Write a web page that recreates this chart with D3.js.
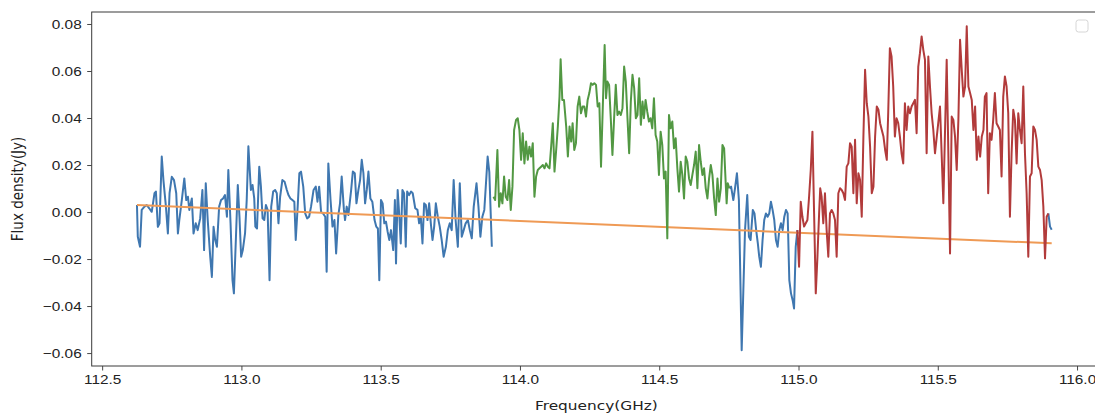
<!DOCTYPE html>
<html>
<head>
<meta charset="utf-8">
<script src="https://cdn.jsdelivr.net/npm/d3@7"></script>
<style>
  html, body { margin: 0; padding: 0; background: #fff; }
  svg { display: block; }
</style>
</head>
<body>
<div id="chart"></div>
<script>
// spectrum: blue = line-free channels, green / red = the two line windows
const blueFreq1 = [112.625, 112.628, 112.636, 112.642, 112.652, 112.660, 112.669, 112.678, 112.688, 112.693,
  112.700, 112.706, 112.714, 112.720, 112.729, 112.736, 112.742, 112.750, 112.758, 112.766,
  112.772, 112.777, 112.786, 112.795, 112.802, 112.808, 112.813, 112.822, 112.828, 112.836,
  112.843, 112.852, 112.860, 112.866, 112.872, 112.879, 112.888, 112.894, 112.900, 112.906,
  112.912, 112.920, 112.927, 112.934, 112.941, 112.948, 112.953, 112.961, 112.968, 112.973,
  112.980, 112.987, 112.993, 112.999, 113.005, 113.013, 113.019, 113.025, 113.034, 113.040,
  113.046, 113.050, 113.056, 113.064, 113.070, 113.076, 113.082, 113.088, 113.094, 113.101,
  113.107, 113.114, 113.121, 113.127, 113.133, 113.139, 113.147, 113.155, 113.163, 113.169,
  113.176, 113.183, 113.190, 113.195, 113.202, 113.208, 113.214, 113.222, 113.229, 113.236,
  113.243, 113.250, 113.259, 113.267, 113.273, 113.279, 113.286, 113.293, 113.301, 113.306,
  113.312, 113.320, 113.327, 113.334, 113.340, 113.348, 113.354, 113.360, 113.368, 113.372,
  113.378, 113.384, 113.394, 113.400, 113.407, 113.413, 113.420, 113.426, 113.432, 113.438,
  113.444, 113.450, 113.456, 113.463, 113.470, 113.478, 113.484, 113.490, 113.495, 113.501,
  113.507, 113.513, 113.519, 113.525, 113.531, 113.537, 113.545, 113.551, 113.555, 113.561,
  113.567, 113.572, 113.578, 113.584, 113.590, 113.595, 113.602, 113.609, 113.615, 113.624,
  113.632, 113.638, 113.644, 113.650, 113.656, 113.662, 113.668, 113.674, 113.680, 113.686,
  113.692, 113.698, 113.705, 113.712, 113.719, 113.726, 113.734, 113.741, 113.748, 113.755,
  113.762, 113.769, 113.777, 113.784, 113.791, 113.798, 113.805, 113.813, 113.820, 113.827,
  113.834, 113.844, 113.851, 113.858, 113.865, 113.872, 113.878, 113.884, 113.890, 113.899];
const blueFlux1 = [0.0030, -0.0105, -0.0148, 0.0009, 0.0023, 0.0030, 0.0016, 0.0001, 0.0080, 0.0087,
  -0.0063, -0.0048, 0.0236, 0.0136, 0.0023, -0.0091, 0.0080, 0.0150, 0.0136, 0.0080,
  -0.0091, -0.0034, 0.0051, 0.0143, 0.0051, 0.0065, 0.0009, 0.0058, -0.0091, -0.0048,
  -0.0077, -0.0027, 0.0094, -0.0162, 0.0122, -0.0034, -0.0190, -0.0276, -0.0063, -0.0119,
  -0.0148, 0.0023, 0.0051, 0.0058, 0.0072, -0.0020, 0.0179, -0.0048, -0.0290, -0.0346,
  -0.0119, 0.0115, -0.0020, -0.0190, -0.0162, -0.0091, 0.0051, 0.0280, 0.0094, 0.0115,
  0.0058, -0.0062, -0.0070, 0.0193, 0.0108, -0.0027, -0.0034, 0.0030, 0.0009, -0.0290,
  0.0023, 0.0087, 0.0094, 0.0080, -0.0048, 0.0065, 0.0136, 0.0129, 0.0094, 0.0072,
  0.0058, 0.0051, 0.0044, -0.0119, 0.0023, 0.0165, 0.0172, 0.0108, -0.0006, -0.0027,
  -0.0020, 0.0023, 0.0094, 0.0108, 0.0044, 0.0108, 0.0001, -0.0006, -0.0020, -0.0254,
  0.0207, 0.0051, -0.0062, -0.0034, -0.0176, -0.0013, 0.0037, 0.0151, 0.0009, -0.0034,
  0.0023, -0.0013, 0.0094, 0.0172, 0.0165, 0.0037, 0.0094, 0.0136, 0.0222, 0.0165,
  0.0037, 0.0094, 0.0172, 0.0058, 0.0044, -0.0034, -0.0062, -0.0070, -0.0290, 0.0051,
  0.0037, -0.0048, -0.0041, -0.0084, -0.0119, -0.0077, -0.0162, 0.0051, -0.0219, 0.0094,
  -0.0020, -0.0134, 0.0094, 0.0080, -0.0148, 0.0087, 0.0072, 0.0087, 0.0080, 0.0016,
  0.0009, -0.0048, -0.0020, -0.0134, 0.0037, 0.0030, -0.0034, 0.0037, -0.0048, -0.0119,
  -0.0062, 0.0037, -0.0020, -0.0062, -0.0119, -0.0190, -0.0148, -0.0077, -0.0048, -0.0077,
  0.0136, -0.0034, -0.0148, 0.0122, -0.0105, -0.0077, -0.0048, -0.0034, -0.0077, -0.0112,
  0.0023, 0.0122, 0.0023, -0.0105, -0.0020, 0.0009, 0.0122, 0.0236, 0.0170, -0.0148];

const greenFreq = [113.905, 113.911, 113.919, 113.925, 113.931, 113.937, 113.943, 113.949, 113.955, 113.961,
  113.967, 113.973, 113.979, 113.986, 113.992, 113.998, 114.004, 114.010, 114.016, 114.022,
  114.028, 114.034, 114.040, 114.046, 114.052, 114.058, 114.064, 114.070, 114.076, 114.082,
  114.088, 114.094, 114.100, 114.106, 114.112, 114.118, 114.124, 114.130, 114.136, 114.142,
  114.146, 114.152, 114.158, 114.166, 114.172, 114.178, 114.184, 114.189, 114.195, 114.201,
  114.207, 114.213, 114.219, 114.225, 114.231, 114.237, 114.243, 114.249, 114.255, 114.261,
  114.267, 114.273, 114.279, 114.285, 114.291, 114.304, 114.309, 114.314, 114.320, 114.326,
  114.332, 114.338, 114.344, 114.350, 114.356, 114.362, 114.368, 114.374, 114.380, 114.386,
  114.392, 114.398, 114.404, 114.410, 114.416, 114.422, 114.428, 114.434, 114.440, 114.445,
  114.451, 114.457, 114.463, 114.469, 114.475, 114.481, 114.487, 114.493, 114.499, 114.505,
  114.511, 114.517, 114.523, 114.529, 114.535, 114.541, 114.547, 114.553, 114.559, 114.565,
  114.571, 114.577, 114.583, 114.589, 114.595, 114.601, 114.607, 114.613, 114.619, 114.625,
  114.631, 114.637, 114.643, 114.649, 114.655, 114.661, 114.667, 114.673, 114.679, 114.685,
  114.691, 114.697, 114.703, 114.709, 114.715, 114.721, 114.727, 114.733, 114.737, 114.742,
  114.746, 114.752];
const greenFlux = [0.0065, 0.0051, 0.0264, 0.0023, 0.0080, 0.0037, 0.0151, 0.0065, 0.0051, 0.0136,
  0.0009, 0.0108, 0.0349, 0.0392, 0.0399, 0.0349, 0.0222, 0.0335, 0.0207, 0.0300,
  0.0222, 0.0278, 0.0236, 0.0293, 0.0065, 0.0151, 0.0179, 0.0186, 0.0193, 0.0200,
  0.0186, 0.0207, 0.0193, 0.0186, 0.0278, 0.0378, 0.0172, 0.0264, 0.0364, 0.0491,
  0.0650, 0.0477, 0.0477, 0.0364, 0.0236, 0.0364, 0.0300, 0.0378, 0.0264, 0.0293,
  0.0449, 0.0491, 0.0420, 0.0449, 0.0449, 0.0406, 0.0477, 0.0506, 0.0548, 0.0541,
  0.0548, 0.0541, 0.0449, 0.0463, 0.0193, 0.0711, 0.0484, 0.0555, 0.0541, 0.0399,
  0.0243, 0.0399, 0.0541, 0.0413, 0.0427, 0.0413, 0.0442, 0.0619, 0.0555, 0.0399,
  0.0250, 0.0470, 0.0584, 0.0527, 0.0399, 0.0413, 0.0569, 0.0371, 0.0470, 0.0399,
  0.0477, 0.0427, 0.0385, 0.0399, 0.0356, 0.0484, 0.0328, 0.0300, 0.0158, 0.0342,
  0.0285, 0.0143, 0.0172, -0.0112, 0.0413, 0.0356, 0.0385, 0.0271, 0.0314, 0.0186,
  0.0087, 0.0214, 0.0158, 0.0058, 0.0236, 0.0214, 0.0143, 0.0115, 0.0158, 0.0200,
  0.0257, 0.0101, 0.0285, 0.0214, 0.0158, 0.0186, 0.0101, 0.0058, 0.0143, 0.0200,
  0.0158, 0.0058, -0.0013, 0.0143, 0.0044, 0.0101, 0.0285, 0.0271, 0.0165, 0.0037,
  0.0122, 0.0101];

const blueFreq2 = [114.752, 114.758, 114.766, 114.772, 114.779, 114.786, 114.792, 114.796, 114.802, 114.808,
  114.816, 114.822, 114.828, 114.836, 114.842, 114.848, 114.854, 114.859, 114.865, 114.871,
  114.877, 114.883, 114.889, 114.895, 114.901, 114.907, 114.913, 114.919, 114.925, 114.931,
  114.937, 114.943, 114.949, 114.955, 114.961, 114.967, 114.973, 114.979, 114.984, 114.990,
  114.996];
const blueFlux2 = [0.0101, 0.0108, 0.0051, 0.0101, 0.0165, 0.0051, -0.0332, -0.0588, -0.0332, -0.0077,
  0.0072, -0.0105, -0.0119, 0.0009, -0.0006, -0.0077, -0.0133, -0.0190, -0.0233, -0.0119,
  -0.0034, -0.0006, -0.0020, -0.0006, 0.0044, 0.0009, -0.0034, -0.0119, -0.0148, -0.0077,
  -0.0048, -0.0077, -0.0020, 0.0009, -0.0006, -0.0290, -0.0346, -0.0375, -0.0410, -0.0148,
  -0.0077];

const redFreq = [114.996, 115.002, 115.008, 115.014, 115.020, 115.026, 115.032, 115.038, 115.044, 115.050,
  115.056, 115.062, 115.068, 115.074, 115.078, 115.083, 115.089, 115.095, 115.101, 115.107,
  115.113, 115.119, 115.125, 115.131, 115.137, 115.143, 115.149, 115.155, 115.161, 115.167,
  115.173, 115.179, 115.185, 115.191, 115.197, 115.203, 115.209, 115.215, 115.221, 115.227,
  115.233, 115.239, 115.245, 115.251, 115.257, 115.263, 115.269, 115.275, 115.281, 115.287,
  115.293, 115.299, 115.305, 115.311, 115.317, 115.322, 115.328, 115.334, 115.340, 115.346,
  115.352, 115.358, 115.364, 115.370, 115.376, 115.382, 115.388, 115.394, 115.400, 115.406,
  115.412, 115.418, 115.424, 115.430, 115.436, 115.442, 115.448, 115.454, 115.460, 115.466,
  115.472, 115.478, 115.484, 115.490, 115.508, 115.520, 115.532, 115.538, 115.544, 115.550,
  115.556, 115.562, 115.568, 115.574, 115.580, 115.586, 115.592, 115.598, 115.604, 115.610,
  115.616, 115.622, 115.628, 115.634, 115.640, 115.646, 115.652, 115.658, 115.664, 115.669,
  115.675, 115.681, 115.687, 115.693, 115.699, 115.705, 115.711, 115.717, 115.723, 115.729,
  115.735, 115.741, 115.747, 115.753, 115.759, 115.765, 115.771, 115.777, 115.783, 115.789,
  115.795, 115.801, 115.807, 115.813, 115.819, 115.825, 115.831, 115.837, 115.843, 115.849,
  115.855, 115.861, 115.867, 115.873, 115.879, 115.885, 115.891, 115.897];
const redFlux = [-0.0077, -0.0233, 0.0044, -0.0020, -0.0062, -0.0048, -0.0034, 0.0065, 0.0179, 0.0342,
  -0.0006, -0.0346, -0.0190, -0.0006, 0.0101, 0.0065, -0.0048, 0.0080, -0.0077, -0.0190,
  -0.0006, 0.0009, -0.0006, -0.0034, -0.0190, 0.0080, 0.0101, 0.0094, 0.0080, 0.0051,
  0.0193, 0.0207, 0.0293, 0.0278, 0.0080, 0.0307, 0.0037, 0.0165, 0.0136, -0.0020,
  0.0321, 0.0605, 0.0463, 0.0406, 0.0278, 0.0080, 0.0108, 0.0321, 0.0449, 0.0435,
  0.0378, 0.0349, 0.0321, 0.0264, 0.0222, 0.0420, 0.0697, 0.0662, 0.0534, 0.0321,
  0.0399, 0.0378, 0.0321, 0.0250, 0.0207, 0.0463, 0.0349, 0.0449, 0.0420, 0.0449,
  0.0463, 0.0477, 0.0335, 0.0619, 0.0676, 0.0747, 0.0690, 0.0648, 0.0250, 0.0662,
  0.0534, 0.0420, 0.0349, 0.0250, 0.0449, 0.0037, 0.0648, 0.0250, -0.0176, 0.0406,
  0.0392, 0.0321, 0.0179, 0.0392, 0.0733, 0.0605, 0.0491, 0.0534, 0.0790, 0.0534,
  0.0506, 0.0477, 0.0349, 0.0449, 0.0222, 0.0321, 0.0236, 0.0321, 0.0349, 0.0491,
  0.0506, 0.0080, 0.0335, 0.0307, 0.0392, 0.0506, 0.0378, 0.0364, 0.0349, 0.0151,
  0.0491, 0.0577, 0.0534, 0.0420, -0.0020, 0.0250, 0.0435, 0.0392, 0.0207, 0.0420,
  0.0349, 0.0293, 0.0534, 0.0250, 0.0080, -0.0190, 0.0151, 0.0165, 0.0364, 0.0349,
  0.0307, 0.0193, 0.0179, 0.0136, 0.0023, -0.0197, -0.0020, -0.0006];

const blueFreq3 = [115.897, 115.903, 115.909];
const blueFlux3 = [-0.0006, -0.0062, -0.0075];

// fitted continuum
const baseFreq = [112.625, 115.909];
const baseFlux = [0.0030, -0.0133];

const xTicks = [112.5, 113.0, 113.5, 114.0, 114.5, 115.0, 115.5, 116.0];
const yTicks = [-0.06, -0.04, -0.02, 0.00, 0.02, 0.04, 0.06, 0.08];

const W = 1095, H = 414;
const plot = { left: 91.7, right: 1101, top: 12, bottom: 366 };
const squeeze = 1.2;   // the picture's text is stretched sideways
const fontPx = "12.8px";

const svg = d3.select("#chart").append("svg")
    .attr("width", W)
    .attr("height", H)
    .attr("viewBox", `0 0 ${W} ${H}`)
    .style("font-family", "'DejaVu Sans', sans-serif");

const x = d3.scaleLinear().domain([112.4625, 116.086]).range([plot.left, plot.right]);
const y = d3.scaleLinear().domain([-0.0655, 0.0851]).range([plot.bottom, plot.top]);

const zip = (f, v) => f.map((d, i) => [d, v[i]]);
const line = d3.line().x(d => x(d[0])).y(d => y(d[1]));

svg.append("defs").append("clipPath").attr("id", "clip")
    .append("rect")
    .attr("x", plot.left).attr("y", plot.top)
    .attr("width", plot.right - plot.left).attr("height", plot.bottom - plot.top);

const lines = svg.append("g").attr("clip-path", "url(#clip)")
    .attr("fill", "none")
    .attr("stroke-width", 2)
    .attr("stroke-linejoin", "round");

const series = [
    { pts: zip(blueFreq1, blueFlux1), color: "#3f77b0" },
    { pts: zip(blueFreq2, blueFlux2), color: "#3f77b0" },
    { pts: zip(blueFreq3, blueFlux3), color: "#3f77b0" },
    { pts: zip(baseFreq, baseFlux), color: "#ef9a55" },
    { pts: zip(greenFreq, greenFlux), color: "#529843" },
    { pts: zip(redFreq, redFlux), color: "#b23b3b" }
];
series.forEach(s => {
    lines.append("path").datum(s.pts).attr("stroke", s.color).attr("d", line);
});

// Axes
const xAxis = svg.append("g")
    .attr("transform", `translate(0,${plot.bottom})`)
    .call(d3.axisBottom(x).tickValues(xTicks).tickFormat(d3.format(".1f")).tickSize(4.5).tickPadding(4).tickSizeOuter(0));
xAxis.selectAll("text")
    .attr("transform", `scale(${squeeze},1)`)
    .style("font-size", fontPx)
    .attr("fill", "#222");

const yAxis = svg.append("g")
    .attr("transform", `translate(${plot.left},0)`)
    .call(d3.axisLeft(y).tickValues(yTicks).tickFormat(d3.format(".2f")).tickSize(4.5).tickSizeOuter(0));
yAxis.selectAll("text")
    .attr("x", -10 / squeeze)
    .attr("transform", `scale(${squeeze},1)`)
    .style("font-size", fontPx)
    .attr("fill", "#222");

[xAxis, yAxis].forEach(a => {
    a.select(".domain").remove();
    a.selectAll(".tick line").attr("stroke", "#333").attr("stroke-width", 0.9);
});

// Frame
svg.append("rect")
    .attr("x", plot.left).attr("y", plot.top)
    .attr("width", plot.right - plot.left).attr("height", plot.bottom - plot.top)
    .attr("fill", "none")
    .attr("stroke", "#3a3a3a")
    .attr("stroke-width", 1);

// Axis titles
svg.append("text")
    .attr("transform", `translate(${(plot.left + plot.right) / 2},410) scale(${squeeze},1)`)
    .attr("text-anchor", "middle")
    .style("font-size", fontPx)
    .attr("fill", "#222")
    .text("Frequency(GHz)");

svg.append("text")
    .attr("transform", `translate(23,${(plot.top + plot.bottom) / 2}) scale(${squeeze},1) rotate(-90)`)
    .attr("text-anchor", "middle")
    .style("font-size", "13.5px")
    .attr("fill", "#222")
    .text("Flux density(Jy)");

// Empty legend box
svg.append("rect")
    .attr("x", 1076).attr("y", 20)
    .attr("width", 12).attr("height", 12)
    .attr("rx", 2.5)
    .attr("fill", "#fff")
    .attr("stroke", "#d6d6d6")
    .attr("stroke-width", 1);
</script>
</body>
</html>
